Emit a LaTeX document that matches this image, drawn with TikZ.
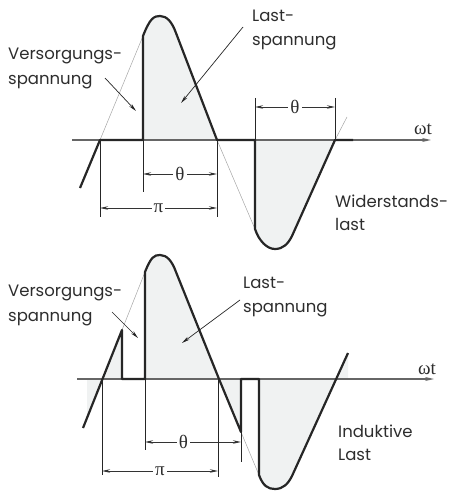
\documentclass[tikz,border=0pt]{standalone}
\usepackage{fontspec}
\setmainfont{Poppins}
\newfontfamily\grk{Liberation Serif}
\usetikzlibrary{arrows.meta}
\definecolor{fillg}{RGB}{240,242,242}
\definecolor{txt}{RGB}{45,45,45}
\tikzset{
  wave/.style={line width=2.2pt, line join=round, black!85},
  supply/.style={line width=0.5pt, black!35},
  axisline/.style={line width=1.3pt, black!60, -{Stealth[length=9pt,width=4pt]}},
  dimline/.style={line width=0.8pt, black!85},
  dimarrow/.style={line width=0.8pt, black!80, {Stealth[length=8pt,width=3.5pt]}-{Stealth[length=8pt,width=3.5pt]}},
  lblarrow/.style={line width=0.7pt, black!85, -{Stealth[length=8pt,width=3.5pt]}},
  lbl/.style={font=\fontsize{16.5}{20}\selectfont, text=txt, anchor=base west, inner sep=0pt},
  greek/.style={font=\grk\fontsize{19}{20}\selectfont, text=txt, fill=white, inner sep=2pt},
  wt/.style={font=\grk\fontsize{19}{20}\selectfont, text=txt, anchor=base east, inner sep=0pt},
  lobe/.style={fill=fillg}
}
\begin{document}
\begin{tikzpicture}[x=1pt,y=-1pt]
\useasboundingbox (0,0) rectangle (457,492);
% ================= TOP: Widerstandslast =================
\fill[lobe] (143,140) -- (143,36) .. controls (150,18) and (154,16) .. (160,16)
  .. controls (167,16) and (172,22) .. (176,33) -- (217,140) -- cycle;
\fill[lobe] (255,140) -- (255,229) .. controls (259,241) and (267,249) .. (275,249)
  .. controls (283,249) and (288,244) .. (292,236) -- (335,140) -- cycle;
% supply (thin)
\draw[supply] (100,140) -- (143,36);
\draw[supply] (217,140) -- (255,229);
\draw[supply] (335,140) -- (347,117);
% axis
\coordinate (ta0) at (72,140);
\coordinate (ta1) at (431,140);
\draw[axisline] (ta0) -- (ta1);
\node[wt] (twt) at (432,134) {ωt};
% load waveform
\draw[wave] (80,188) -- (100,140) -- (143,140) -- (143,36)
  .. controls (150,18) and (154,16) .. (160,16)
  .. controls (167,16) and (172,22) .. (176,33) -- (217,140) -- (255,140) -- (255,229)
  .. controls (259,241) and (267,249) .. (275,249)
  .. controls (283,249) and (288,244) .. (292,236) -- (335,140) -- (353,140);
% dimension lines
\coordinate (tv1a) at (100,140); \coordinate (tv1b) at (100,217);
\coordinate (tv2a) at (143,140); \coordinate (tv2b) at (143,192);
\coordinate (tv3a) at (217,140); \coordinate (tv3b) at (217,217);
\coordinate (tv4a) at (255,98);  \coordinate (tv4b) at (255,140);
\coordinate (tv5a) at (335,98);  \coordinate (tv5b) at (335,140);
\draw[dimline] (tv1a) -- (tv1b);
\draw[dimline] (tv2a) -- (tv2b);
\draw[dimline] (tv3a) -- (tv3b);
\draw[dimline] (tv4a) -- (tv4b);
\draw[dimline] (tv5a) -- (tv5b);
\coordinate (tth1) at (143,174); \coordinate (tth2) at (217,174);
\draw[dimarrow] (tth1) -- (tth2) node[greek, midway] (tthl) {θ};
\coordinate (tpi1) at (100,208); \coordinate (tpi2) at (217,208);
\draw[dimarrow] (tpi1) -- (tpi2) node[greek, midway] (tpil) {π};
\coordinate (tth3) at (255,107); \coordinate (tth4) at (335,107);
\draw[dimarrow] (tth3) -- (tth4) node[greek, midway] (tthr) {θ};
% labels
\node[lbl] (tvs1) at (8,60) {Versorgungs-};
\node[lbl] (tvs2) at (8,85) {spannung};
\coordinate (tvsA) at (105,78); \coordinate (tvsB) at (136,111);
\draw[lblarrow] (tvsA) -- (tvsB);
\node[lbl] (tls1) at (252,22) {Last-};
\node[lbl] (tls2) at (252,46) {spannung};
\coordinate (tlsA) at (243,27); \coordinate (tlsB) at (181,103);
\draw[lblarrow] (tlsA) -- (tlsB);
\node[lbl] (twl1) at (335,207) {Widerstands-};
\node[lbl] (twl2) at (335,230) {last};
% ================= BOTTOM: Induktive Last =================
\fill[lobe] (87,379) -- (87,418) -- (102,379) -- cycle;
\fill[lobe] (102,379) -- (122,330) -- (122,379) -- cycle;
\fill[lobe] (145,379) -- (145,272) .. controls (151,257) and (154,255) .. (160,255)
  .. controls (167,255) and (172,261) .. (176,272) -- (219,379) -- cycle;
\fill[lobe] (219,379) -- (241,432) -- (241,379) -- cycle;
\fill[lobe] (259,379) -- (259,475) .. controls (263,486) and (268,489) .. (275,489)
  .. controls (283,489) and (288,484) .. (292,476) -- (336,379) -- cycle;
\fill[lobe] (336,379) -- (348,353) -- (348,379) -- cycle;
\draw[supply] (122,330) -- (145,272);
\draw[supply] (241,432) -- (259,475);
\coordinate (ba0) at (77,379);
\coordinate (ba1) at (434,379);
\draw[axisline] (ba0) -- (ba1);
\node[wt] (bwt) at (436,374) {ωt};
\draw[wave] (83,428) -- (122,330) -- (122,379) -- (145,379) -- (145,272)
  .. controls (151,257) and (154,255) .. (160,255)
  .. controls (167,255) and (172,261) .. (176,272) -- (219,379) -- (241,432)
  -- (241,379) -- (259,379) -- (259,475)
  .. controls (263,486) and (268,489) .. (275,489)
  .. controls (283,489) and (288,484) .. (292,476) -- (348,353);
\coordinate (bv1a) at (102,379); \coordinate (bv1b) at (102,475);
\coordinate (bv2a) at (145,379); \coordinate (bv2b) at (145,450);
\coordinate (bv3a) at (218,379); \coordinate (bv3b) at (218,477);
\coordinate (bv4a) at (241,432); \coordinate (bv4b) at (241,462);
\draw[dimline] (bv1a) -- (bv1b);
\draw[dimline] (bv2a) -- (bv2b);
\draw[dimline] (bv3a) -- (bv3b);
\draw[dimline] (bv4a) -- (bv4b);
\coordinate (bth1) at (145,442); \coordinate (bth2) at (241,442);
\draw[dimarrow] (bth1) -- (bth2) node[greek, pos=0.4] (bthl) {θ};
\coordinate (bpi1) at (102,471); \coordinate (bpi2) at (218,471);
\draw[dimarrow] (bpi1) -- (bpi2) node[greek, midway] (bpil) {π};
\node[lbl] (bvs1) at (8,296) {Versorgungs-};
\node[lbl] (bvs2) at (8,321) {spannung};
\coordinate (bvsA) at (112,312); \coordinate (bvsB) at (138,338);
\draw[lblarrow] (bvsA) -- (bvsB);
\node[lbl] (bls1) at (243,288) {Last-};
\node[lbl] (bls2) at (243,312) {spannung};
\coordinate (blsA) at (240,300); \coordinate (blsB) at (182,343);
\draw[lblarrow] (blsA) -- (blsB);
\node[lbl] (bil1) at (338,437) {Induktive};
\node[lbl] (bil2) at (338,460) {Last};
\end{tikzpicture}
\end{document}
